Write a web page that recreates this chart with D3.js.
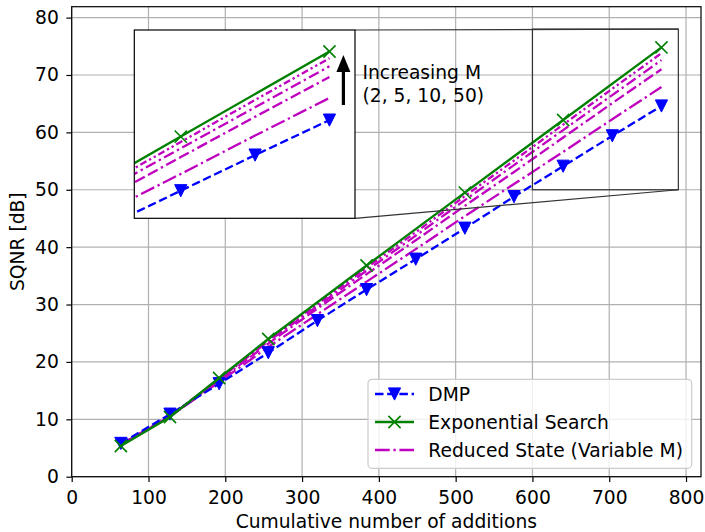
<!DOCTYPE html>
<html>
<head>
<meta charset="utf-8">
<script src="https://cdn.jsdelivr.net/npm/d3@7"></script>
<style>
  body { margin: 0; background: #fff; }
  svg { display: block; font-family: "DejaVu Sans", sans-serif; }
</style>
</head>
<body>
<div id="chart"></div>
<script>
// values
var additions = [64, 128, 192, 256, 320, 384, 448, 512, 576, 640, 704, 768];
var dmp = [5.8, 10.9, 16.2, 21.6, 27.2, 32.6, 37.9, 43.3, 48.8, 54.1, 59.4, 64.6];
var expAdditions = [64, 128, 192, 256, 384, 512, 640, 768];
var expSearch = [5.35, 10.4, 17.2, 24.0, 36.8, 49.5, 62.15, 74.8];
var reducedM2 = [5.6, 10.5, 16.5, 22.6, 28.3, 34.0, 39.65, 45.4, 51.0, 56.6, 62.3, 67.9];
var reducedM5 = [5.6, 10.5, 16.8, 23.2, 29.3, 35.3, 41.2, 47.2, 53.1, 59.1, 65.1, 71.0];
var reducedM10 = [5.6, 10.5, 17.0, 23.6, 29.7, 35.9, 42.0, 48.2, 54.3, 60.4, 66.5, 72.6];
var reducedM50 = [5.6, 10.5, 17.1, 23.8, 30.1, 36.4, 42.6, 48.9, 55.1, 61.35, 67.6, 73.8];
var xTicks = [0, 100, 200, 300, 400, 500, 600, 700, 800];
var yTicks = [0, 10, 20, 30, 40, 50, 60, 70, 80];
var legendLabels = ["DMP", "Exponential Search", "Reduced State (Variable M)"];
var noteLines = ["Increasing M", "(2, 5, 10, 50)"];
var zoomX = [600, 790];
var zoomY = [50, 78];

var svgWidth = 705, svgHeight = 532;
var plotLeft = 71.7, plotRight = 701, plotTop = 6.7, plotBottom = 476.7;
var fontSize = 18.7;

var svg = d3.select("#chart").append("svg")
  .attr("width", svgWidth)
  .attr("height", svgHeight);

var x = d3.scaleLinear().domain([0, 819.5]).range([plotLeft, plotRight]);
var y = d3.scaleLinear().domain([0, 81.9]).range([plotBottom, plotTop]);

// grid
svg.append("g").selectAll("line").data(xTicks).enter().append("line")
  .attr("x1", d => x(d)).attr("x2", d => x(d))
  .attr("y1", plotTop).attr("y2", plotBottom)
  .attr("stroke", "#b0b0b0").attr("stroke-width", 1.2);
svg.append("g").selectAll("line").data(yTicks).enter().append("line")
  .attr("y1", d => y(d)).attr("y2", d => y(d))
  .attr("x1", plotLeft).attr("x2", plotRight)
  .attr("stroke", "#b0b0b0").attr("stroke-width", 1.2);

// series definitions
var magenta = "#bf00bf";
var series = [
  { xs: additions, ys: reducedM2, color: magenta, dash: "14.7,3.7,2.3,3.7" },
  { xs: additions, ys: reducedM5, color: magenta, dash: "11,3.7,11,3.7,2.3,3.7" },
  { xs: additions, ys: reducedM10, color: magenta, dash: "11,3.7,2.3,3.7" },
  { xs: additions, ys: reducedM50, color: magenta, dash: "7,3,2.3,3,2.3,3" },
  { xs: additions, ys: dmp, color: "#0000ff", dash: "8.5,3.7", marker: "v" },
  { xs: expAdditions, ys: expSearch, color: "#008000", dash: null, marker: "x" }
];

var ms = 6.1;
function drawMarker(g, kind, color) {
  if (kind === "v") {
    g.append("path")
      .attr("d", `M${-ms},${-ms}L${ms},${-ms}L0,${ms}Z`)
      .attr("fill", color).attr("stroke", color).attr("stroke-width", 1);
  } else if (kind === "x") {
    g.append("path")
      .attr("d", `M${-ms},${-ms}L${ms},${ms}M${-ms},${ms}L${ms},${-ms}`)
      .attr("fill", "none").attr("stroke", color).attr("stroke-width", 1.6);
  }
}

function drawSeries(group, sx, sy) {
  series.forEach(function(s) {
    var pts = s.xs.map((v, i) => [v, s.ys[i]]);
    var line = d3.line().x(d => sx(d[0])).y(d => sy(d[1]));
    group.append("path")
      .datum(pts)
      .attr("d", line)
      .attr("fill", "none")
      .attr("stroke", s.color)
      .attr("stroke-width", 2.3)
      .attr("stroke-dasharray", s.dash);
    if (s.marker) {
      group.append("g").selectAll("g").data(pts).enter().append("g")
        .attr("transform", d => `translate(${sx(d[0])},${sy(d[1])})`)
        .each(function() { drawMarker(d3.select(this), s.marker, s.color); });
    }
  });
}

var mainLines = svg.append("g");
drawSeries(mainLines, x, y);

// axes
var xAxis = svg.append("g")
  .attr("transform", `translate(0,${plotBottom})`)
  .call(d3.axisBottom(x).tickValues(xTicks).tickSize(5.3).tickPadding(9).tickSizeOuter(0));
var yAxis = svg.append("g")
  .attr("transform", `translate(${plotLeft},0)`)
  .call(d3.axisLeft(y).tickValues(yTicks).tickSize(5.3).tickPadding(7.5).tickSizeOuter(0));
[xAxis, yAxis].forEach(function(a) {
  a.select(".domain").remove();
  a.selectAll("line").attr("stroke", "#000").attr("stroke-width", 1.2);
  a.selectAll("text").attr("font-size", fontSize).attr("font-family", "DejaVu Sans").attr("fill", "#000");
});

// frame
svg.append("rect")
  .attr("x", plotLeft).attr("y", plotTop)
  .attr("width", plotRight - plotLeft).attr("height", plotBottom - plotTop)
  .attr("fill", "none").attr("stroke", "#000").attr("stroke-width", 1.2);

// axis labels
svg.append("text")
  .attr("x", (plotLeft + plotRight) / 2).attr("y", 528)
  .attr("text-anchor", "middle").attr("font-size", fontSize)
  .text("Cumulative number of additions");
svg.append("text")
  .attr("transform", `translate(24,${(plotTop + plotBottom) / 2}) rotate(-90)`)
  .attr("text-anchor", "middle").attr("font-size", fontSize)
  .text("SQNR [dB]");

// inset
var insetLeft = 134.3, insetRight = 355, insetTop = 30, insetBottom = 218.3;
var ix = d3.scaleLinear().domain(zoomX).range([insetLeft, insetRight]);
var iy = d3.scaleLinear().domain(zoomY).range([insetBottom, insetTop]);

// zoom rectangle and connectors
var markColor = "#333";
svg.append("rect")
  .attr("x", x(zoomX[0])).attr("y", y(zoomY[1]))
  .attr("width", x(zoomX[1]) - x(zoomX[0])).attr("height", y(zoomY[0]) - y(zoomY[1]))
  .attr("fill", "none").attr("stroke", markColor).attr("stroke-width", 1.2);
svg.append("line")
  .attr("x1", insetRight).attr("y1", insetTop)
  .attr("x2", x(zoomX[1])).attr("y2", y(zoomY[1]))
  .attr("stroke", markColor).attr("stroke-width", 1.2);
svg.append("line")
  .attr("x1", insetRight).attr("y1", insetBottom)
  .attr("x2", x(zoomX[1])).attr("y2", y(zoomY[0]))
  .attr("stroke", markColor).attr("stroke-width", 1.2);

svg.append("clipPath").attr("id", "insetClip")
  .append("rect")
  .attr("x", insetLeft).attr("y", insetTop)
  .attr("width", insetRight - insetLeft).attr("height", insetBottom - insetTop);
svg.append("rect")
  .attr("x", insetLeft).attr("y", insetTop)
  .attr("width", insetRight - insetLeft).attr("height", insetBottom - insetTop)
  .attr("fill", "#fff");
var insetLines = svg.append("g").attr("clip-path", "url(#insetClip)");
drawSeries(insetLines, ix, iy);
svg.append("rect")
  .attr("x", insetLeft).attr("y", insetTop)
  .attr("width", insetRight - insetLeft).attr("height", insetBottom - insetTop)
  .attr("fill", "none").attr("stroke", "#000").attr("stroke-width", 1.2);

// arrow + note
svg.append("line")
  .attr("x1", 343.4).attr("x2", 343.4).attr("y1", 105).attr("y2", 70)
  .attr("stroke", "#000").attr("stroke-width", 3.2);
svg.append("path")
  .attr("d", "M343.4,55L336.4,72L350.4,72Z")
  .attr("fill", "#000");
svg.append("g").selectAll("text").data(noteLines).enter().append("text")
  .attr("x", 362.5)
  .attr("y", (d, i) => 79 + i * 23)
  .attr("font-size", fontSize)
  .text(d => d);

// legend
var legend = svg.append("g");
legend.append("rect")
  .attr("x", 368).attr("y", 379.3)
  .attr("width", 323.7).attr("height", 89)
  .attr("rx", 4).attr("ry", 4)
  .attr("fill", "#fff").attr("fill-opacity", 0.8)
  .attr("stroke", "#cccccc").attr("stroke-width", 1.2);
var legendSeries = [series[4], series[5], series[0]];
legendSeries.forEach(function(s, i) {
  var ly = 394 + i * 28;
  legend.append("line")
    .attr("x1", 375).attr("x2", 414).attr("y1", ly).attr("y2", ly)
    .attr("stroke", s.color).attr("stroke-width", 2.3)
    .attr("stroke-dasharray", s.dash);
  if (s.marker) {
    var mg = legend.append("g").attr("transform", `translate(394.5,${ly})`);
    drawMarker(mg, s.marker, s.color);
  }
  legend.append("text")
    .attr("x", 428.3).attr("y", ly)
    .attr("dy", "0.35em")
    .attr("font-size", fontSize)
    .text(legendLabels[i]);
});
</script>
</body>
</html>
